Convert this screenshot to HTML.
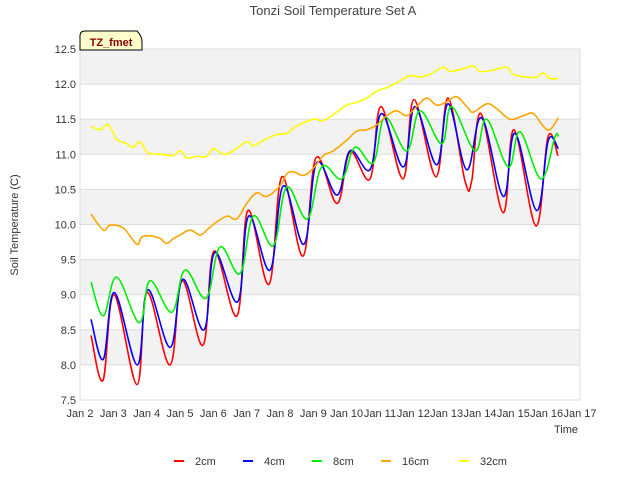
<!DOCTYPE html>
<html><head><meta charset="utf-8"><style>
body{margin:0;background:#fff;}
svg{display:block;font-family:"Liberation Sans",sans-serif;}
</style></head><body>
<svg id="chart" width="640" height="480">
<text x="333" y="15" text-anchor="middle" font-size="13" fill="#444">Tonzi Soil Temperature Set A</text>
<g id="grid"></g>
<g id="axes"></g>
<g id="series"></g>
<text transform="translate(18,225) rotate(-90)" text-anchor="middle" font-size="11" fill="#333">Soil Temperature (C)</text>
<text x="578" y="433" text-anchor="end" font-size="11" fill="#333">Time</text>
<g>
<path d="M80,50 L80,36 Q80,31 85,31 L137,31 Q142,36 142,42 L142,50 Z" fill="#ffffcc" stroke="#000" stroke-width="1"/>
<text x="111" y="46" text-anchor="middle" font-size="11" font-weight="bold" fill="#8b0000">TZ_fmet</text>
</g>
<g id="legend"></g>
</svg>
<script>
const yTicks=[7.5,8.0,8.5,9.0,9.5,10.0,10.5,11.0,11.5,12.0,12.5];
const xTickDays=[2,3,4,5,6,7,8,9,10,11,12,13,14,15,16,17];
const xTickLabels=["Jan 2","Jan 3","Jan 4","Jan 5","Jan 6","Jan 7","Jan 8","Jan 9","Jan 10","Jan 11","Jan 12","Jan 13","Jan 14","Jan 15","Jan 16","Jan 17"];
const seriesNames=["2cm","4cm","8cm","16cm","32cm"];
const seriesColors=["#ff0000","#0000ff","#00ee00","#ffa500","#ffff00"];
const t2=[2.33,2.69,3.02,3.71,4.01,4.7,5.06,5.69,6.02,6.71,7.04,7.67,8.06,8.69,9.08,9.71,10.1,10.7,11.03,11.69,12.02,12.68,13.04,13.55,13.75,14.03,14.69,15.02,15.68,16.04,16.34];
const v2=[8.42,7.78,9.0,7.72,9.03,8.0,9.2,8.28,9.62,8.7,10.2,9.15,10.68,9.55,10.95,10.3,11.03,10.65,11.68,10.65,11.78,10.68,11.8,10.62,10.62,11.58,10.17,11.35,9.98,11.25,10.98];
const t4=[2.33,2.7,3.03,3.72,4.03,4.71,5.08,5.72,6.04,6.73,7.06,7.7,8.1,8.72,9.1,9.72,10.1,10.7,11.05,11.7,12.05,12.7,13.05,13.6,14.05,14.7,15.05,15.7,16.05,16.35];
const v4=[8.65,8.08,9.03,8.0,9.07,8.25,9.22,8.5,9.6,8.9,10.12,9.35,10.55,9.72,10.88,10.42,11.05,10.78,11.58,10.82,11.68,10.85,11.72,10.78,11.52,10.4,11.3,10.2,11.2,11.08];
const t8=[2.33,2.7,3.1,3.78,4.1,4.75,5.15,5.78,6.2,6.8,7.2,7.8,8.2,8.82,9.25,9.85,10.25,10.8,11.15,11.8,12.2,12.85,13.15,13.85,14.2,14.85,15.2,15.83,16.25,16.35];
const v8=[9.18,8.7,9.25,8.6,9.2,8.75,9.35,8.95,9.68,9.3,10.12,9.7,10.53,10.08,10.82,10.65,11.1,10.88,11.53,11.05,11.62,11.15,11.68,11.05,11.5,10.82,11.32,10.65,11.25,11.25];
const t16=[2.33,2.7,2.9,3.3,3.7,3.85,4.1,4.4,4.6,4.8,5.0,5.3,5.6,5.8,6.0,6.4,6.7,7.0,7.3,7.6,8.0,8.2,8.4,8.7,9.0,9.3,9.6,10.0,10.3,10.6,10.9,11.2,11.5,11.8,12.1,12.4,12.7,13.0,13.3,13.6,13.8,14.2,14.5,14.9,15.3,15.6,15.9,16.1,16.35];
const v16=[10.15,9.92,9.99,9.95,9.72,9.82,9.84,9.8,9.73,9.8,9.85,9.92,9.85,9.92,10.0,10.12,10.08,10.3,10.45,10.4,10.55,10.72,10.75,10.7,10.8,10.98,11.05,11.2,11.33,11.35,11.42,11.55,11.62,11.55,11.68,11.8,11.7,11.75,11.82,11.68,11.6,11.72,11.65,11.5,11.55,11.58,11.4,11.35,11.52];
const t32=[2.33,2.6,2.85,3.1,3.4,3.6,3.8,4.05,4.5,4.8,5.0,5.2,5.5,5.8,6.0,6.3,6.6,7.0,7.2,7.5,7.9,8.2,8.5,9.0,9.3,9.7,10.0,10.3,10.6,10.9,11.2,11.5,11.9,12.2,12.5,12.9,13.1,13.5,13.8,14.0,14.4,14.8,15.0,15.4,15.7,15.9,16.1,16.35];
const v32=[11.4,11.35,11.42,11.22,11.15,11.1,11.18,11.02,11.0,10.98,11.05,10.95,10.97,10.97,11.08,11.0,11.05,11.18,11.12,11.2,11.28,11.3,11.4,11.5,11.48,11.6,11.7,11.74,11.8,11.9,11.95,12.02,12.12,12.1,12.14,12.24,12.18,12.22,12.26,12.18,12.2,12.24,12.14,12.1,12.1,12.16,12.08,12.08];

const X0=80,X1=580,Y0=400,Y1=49,DMIN=2,DMAX=17,VMIN=7.5,VMAX=12.5;
const xs=d=>X0+(d-DMIN)/(DMAX-DMIN)*(X1-X0);
const ys=v=>Y0-(v-VMIN)/(VMAX-VMIN)*(Y0-Y1);
const NS="http://www.w3.org/2000/svg";
function mk(tag,attrs,parent){const e=document.createElementNS(NS,tag);for(const k in attrs)e.setAttribute(k,attrs[k]);parent.appendChild(e);return e;}
function smoothPath(P){
  let d='M'+P[0][0].toFixed(1)+','+P[0][1].toFixed(1);
  const k=0.18;
  for(let i=0;i<P.length-1;i++){
    const p0=P[i-1]||P[i],p1=P[i],p2=P[i+1],p3=P[i+2]||P[i+1];
    const c1x=p1[0]+(p2[0]-p0[0])*k,c1y=p1[1]+(p2[1]-p0[1])*k;
    const c2x=p2[0]-(p3[0]-p1[0])*k,c2y=p2[1]-(p3[1]-p1[1])*k;
    d+=' C'+c1x.toFixed(1)+','+c1y.toFixed(1)+' '+c2x.toFixed(1)+','+c2y.toFixed(1)+' '+p2[0].toFixed(1)+','+p2[1].toFixed(1);
  }
  return d;
}
const grid=document.getElementById('grid'),axes=document.getElementById('axes'),ser=document.getElementById('series'),leg=document.getElementById('legend');
mk('rect',{x:X0,y:Y1,width:X1-X0,height:Y0-Y1,fill:'#fff'},grid);
for(let i=0;i<yTicks.length-1;i++){
  if((yTicks.length-2-i)%2===0){
    const b=mk('rect',{x:X0,y:ys(yTicks[i+1]),width:X1-X0,height:ys(yTicks[i])-ys(yTicks[i+1]),fill:'#f2f2f2'},grid);
    
    
  }
}
yTicks.forEach(v=>{
  const l=mk('line',{x1:X0,x2:X1,y1:ys(v),y2:ys(v),stroke:'#dcdcdc'},grid);
  
  
  const t=mk('text',{x:X0-4,y:ys(v)+4,'text-anchor':'end','font-size':11,fill:'#333'},axes);
  t.textContent=v.toFixed(1);
  
  
});
mk('rect',{x:X0,y:Y1,width:X1-X0,height:Y0-Y1,fill:'none',stroke:'#ddd'},grid);
xTickDays.forEach((d,i)=>{
  const t=mk('text',{x:xs(d),y:Y0+17,'text-anchor':'middle','font-size':11,fill:'#333'},axes);
  t.textContent=xTickLabels[i];
  
  
});
const data=[[t2,v2],[t4,v4],[t8,v8],[t16,v16],[t32,v32]];
data.forEach((s,k)=>{
  const P=s[0].map((t,i)=>[xs(t),ys(s[1][i])]);
  const p=mk('path',{d:smoothPath(P),fill:'none',stroke:seriesColors[k],'stroke-width':1.6,'stroke-linejoin':'round'},ser);
  
  
});
const lx=[176,245,314,383,461];
seriesNames.forEach((n,k)=>{
  const g=mk('g',{},leg);
  
  
  mk('line',{x1:lx[k]-2,x2:lx[k]+8,y1:461,y2:461,stroke:seriesColors[k],'stroke-width':2},g);
  const t=mk('text',{x:lx[k]+19,y:465,'font-size':11,fill:'#333'},g);
  t.textContent=n;
});
</script>
</body></html>
